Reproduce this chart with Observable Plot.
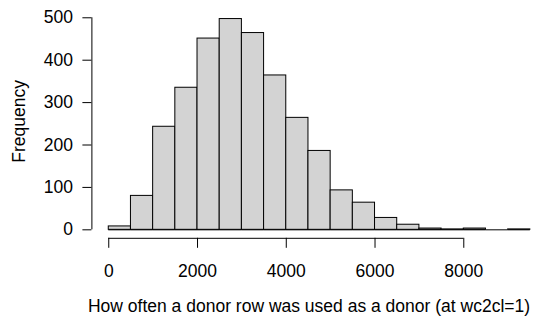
<!DOCTYPE html>
<html>
<head>
<meta charset="utf-8">
<script src="https://cdn.jsdelivr.net/npm/d3@7"></script>
<script src="https://cdn.jsdelivr.net/npm/@observablehq/plot@0.6"></script>
<style>
  html, body { margin: 0; padding: 0; background: #fff; }
  svg { display: block; }
</style>
</head>
<body>
<div id="chart"></div>
<script>
// Histogram of donor usage counts, bins of width 500
const binStarts = [0, 500, 1000, 1500, 2000, 2500, 3000, 3500, 4000, 4500,
                   5000, 5500, 6000, 6500, 7000, 7500, 8000, 8500, 9000];
const binWidth = 500;
const counts = [8, 80, 243, 335, 451, 497, 464, 364, 264, 186,
                93, 64, 28, 12, 3, 1, 3, 0, 1];
const xTicks = [0, 2000, 4000, 6000, 8000];
const yTicks = [0, 100, 200, 300, 400, 500];
const xTitle = "How often a donor row was used as a donor (at wc2cl=1)";
const yTitle = "Frequency";

const bins = binStarts.map((x0, i) => ({x1: x0, x2: x0 + binWidth, count: counts[i]}));

const font = "Liberation Sans, Arial, Helvetica, sans-serif";
const fs = 17.5;

const chart = Plot.plot({
  width: 533,
  height: 326,
  marginLeft: 91.4,
  marginRight: 0,
  marginTop: 8.8,
  marginBottom: 88.2,
  style: {fontFamily: font, fontSize: fs + "px", color: "#000", background: "#fff"},
  x: {domain: [-380, 9571]},
  y: {domain: [-20, 520]},
  marks: [
    Plot.rectY(bins, {x1: "x1", x2: "x2", y1: 0, y2: "count", fill: "#D3D3D3", stroke: "#000", strokeWidth: 1}),
    // bottom edge of every bin, including empty ones
    Plot.ruleY(bins, {x1: "x1", x2: "x2", y: 0, stroke: "#000", strokeWidth: 1}),
    // axis lines
    Plot.ruleX([-380], {y1: 0, y2: 500, stroke: "#000", strokeWidth: 1}),
    Plot.ruleY([-20], {x1: 0, x2: 8000, stroke: "#000", strokeWidth: 1}),
    Plot.axisY({ticks: yTicks, tickSize: 9, tickPadding: 10, fontSize: fs, label: null, stroke: "#000", tickFormat: d => String(d)}),
    Plot.axisX({ticks: xTicks, tickSize: 10, tickPadding: 16, fontSize: fs, label: null, stroke: "#000", tickFormat: d => String(d)}),
    Plot.text([yTitle], {frameAnchor: "left", textAnchor: "middle", text: d => d, rotate: -90, dx: -73, dy: -2.5, fontSize: fs, fill: "#000"}),
    Plot.text([xTitle], {frameAnchor: "bottom", textAnchor: "middle", text: d => d, dx: -3.7, dy: 74, fontSize: fs, fill: "#000"})
  ]
});
document.getElementById("chart").appendChild(chart);
</script>
</body>
</html>
